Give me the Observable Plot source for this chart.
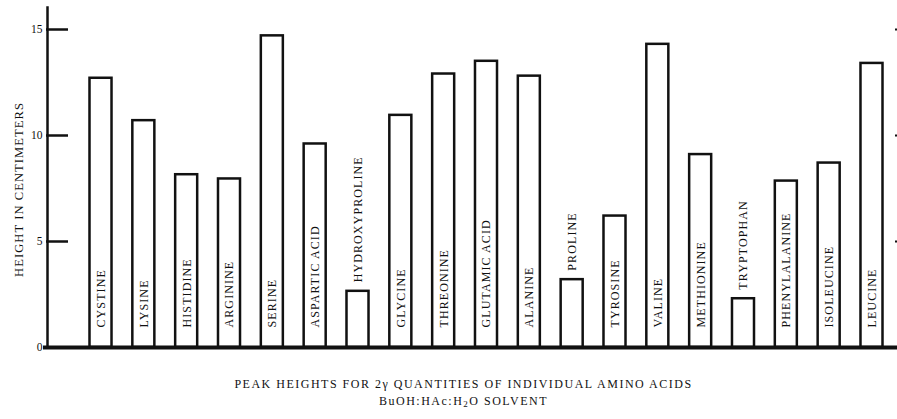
<!DOCTYPE html>
<html>
<head>
<meta charset="utf-8">
<script src="https://cdn.jsdelivr.net/npm/d3@7"></script>
<script src="https://cdn.jsdelivr.net/npm/@observablehq/plot@0.6"></script>
<style>
  html, body { margin: 0; padding: 0; background: #fff; }
  #chart { width: 897px; }
  #chart g[aria-label="text"] text { letter-spacing: 1.1px; }
  .caption {
    width: 867px; margin-left: 30px; text-align: center;
    font-family: "Liberation Serif", "DejaVu Serif", serif;
    font-size: 12px; letter-spacing: 1.5px; color: #111;
    line-height: 17px; padding-top: 16px;
  }
  .caption sub { font-size: 9px; vertical-align: -2px; line-height: 0; }
</style>
</head>
<body>
<div id="chart"></div>
<div class="caption">
  <div>PEAK HEIGHTS FOR 2γ QUANTITIES OF INDIVIDUAL AMINO ACIDS</div>
  <div>BuOH:HAc:H<sub>2</sub>O SOLVENT</div>
</div>
<script>
const aminoAcids = [
  "CYSTINE", "LYSINE", "HISTIDINE", "ARGININE", "SERINE", "ASPARTIC ACID",
  "HYDROXYPROLINE", "GLYCINE", "THREONINE", "GLUTAMIC ACID", "ALANINE",
  "PROLINE", "TYROSINE", "VALINE", "METHIONINE", "TRYPTOPHAN",
  "PHENYLALANINE", "ISOLEUCINE", "LEUCINE"
];
const peakHeights = [
  12.7, 10.7, 8.15, 7.95, 14.7, 9.6,
  2.65, 10.95, 12.9, 13.5, 12.8,
  3.2, 6.2, 14.3, 9.1, 2.3,
  7.85, 8.7, 13.4
];
const yTicks = [0, 5, 10, 15];
const yLabel = "HEIGHT IN CENTIMETERS";

const data = aminoAcids.map((name, i) => ({name, value: peakHeights[i]}));
const serif = "Liberation Serif, DejaVu Serif, serif";
const inside = data.filter(d => d.value >= 4);
const above = data.filter(d => d.value < 4);

const W = 897, ML = 47, MR = 3;
const tickLen = 21;

const chart = Plot.plot({
  width: W,
  height: 360,
  marginLeft: ML,
  marginRight: MR,
  marginTop: 7,
  marginBottom: 13,
  style: {fontFamily: serif, background: "#fff", color: "#111"},
  x: {domain: aminoAcids, range: [76.65, 895.35], paddingInner: 0.486, paddingOuter: 0.3, round: false, axis: null},
  y: {domain: [0, 15], range: [347, 29]},
  marks: [
    Plot.frame({anchor: "left", stroke: "#111", strokeWidth: 2.5}),
    Plot.axisY({anchor: "left", ticks: yTicks, tickSize: 0, tickPadding: 5, fontSize: 11.5, label: null}),
    Plot.axisY({anchor: "right", ticks: [5, 10, 15], tickSize: 4, strokeWidth: 2, stroke: "#111", tickFormat: () => "", label: null}),
    Plot.text([yLabel], {frameAnchor: "left", textAnchor: "middle", rotate: -90, dx: -29, dy: 12, fontSize: 12.5, fill: "#111"}),
    Plot.barY(data, {x: "name", y: "value", fill: "white", stroke: "#111", strokeWidth: 2.5}),
    Plot.text(inside, {
      x: "name", y: 0, text: "name", rotate: -90, textAnchor: "start",
      dy: -20, fontSize: 12, fill: "#111"
    }),
    Plot.text(above, {
      x: "name", y: "value", text: "name", rotate: -90, textAnchor: "start",
      dy: -9, fontSize: 12, fill: "#111"
    }),
    Plot.ruleY(yTicks.filter(t => t > 0), {stroke: "#111", strokeWidth: 2.5, insetLeft: -1, insetRight: W - ML - MR - tickLen}),
    Plot.ruleY([0], {stroke: "#111", strokeWidth: 4, insetLeft: -4, insetRight: -3})
  ]
});
document.getElementById("chart").appendChild(chart);
</script>
</body>
</html>
